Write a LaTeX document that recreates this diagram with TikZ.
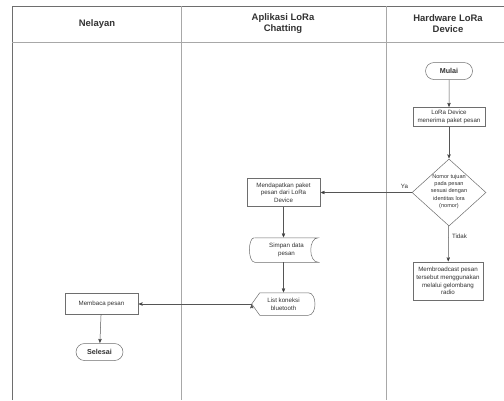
\documentclass[tikz,border=0pt]{standalone}
\usepackage{fontspec}
\setmainfont{Liberation Sans}
\usetikzlibrary{arrows,positioning,shapes.geometric,shapes.misc}

\definecolor{garis}{HTML}{555555}
\definecolor{bingkai}{HTML}{6E6E6E}
\definecolor{lajur}{HTML}{A8A8A8}
\definecolor{teks}{HTML}{333333}

\tikzset{
  judul/.style={font=\fontsize{9.5}{11}\selectfont\bfseries, text=teks, align=center},
  proses/.style={rectangle, draw=bingkai, minimum width=72bp, minimum height=19bp,
    inner sep=1pt, align=center, text=teks, font=\fontsize{6.2}{7.6}\selectfont},
  terminal/.style={rounded rectangle, draw=bingkai, minimum width=49bp, minimum height=17bp,
    inner sep=1pt, text=teks, font=\fontsize{7.2}{8}\selectfont\bfseries},
  keputusan/.style={diamond, draw=bingkai, minimum width=74bp, minimum height=67bp, inner sep=0pt},
  isi/.style={align=center, text=teks, font=\fontsize{6.2}{7.6}\selectfont, inner sep=0pt},
  label/.style={text=teks, font=\fontsize{6.2}{7.6}\selectfont}
}

\begin{document}
\begin{tikzpicture}[x=1bp,y=-1bp,->,>=stealth',shorten >=0.5pt,auto,
        line width=0.5pt]

  \useasboundingbox (0,0) rectangle (504,400);
  \fill[white] (0,0) rectangle (504,400);

  % lajur
  \draw[-,bingkai,line width=0.7pt] (12,400) -- (12,6) -- (504,6);
  \draw[-,lajur,line width=1.4pt] (12,42.5) -- (504,42.5);
  \draw[-,lajur,line width=0.8pt] (181,6) -- (181,400);
  \draw[-,lajur,line width=0.8pt] (386,6) -- (386,400);

  \node[judul] (hNelayan) at (97,24) {Nelayan};
  \node[judul] (hAplikasi) at (283,24) {Aplikasi LoRa\\Chatting};
  \node[judul] (hHardware) at (448,24) {Hardware LoRa\\Device};

  % hardware
  \node[terminal] (mulai) at (449,71) {Mulai};
  \node[proses] (terima) at (449,117) {LoRa Device\\menerima paket pesan};
  \node[keputusan] (cek) at (449,192.5) {};
  \node[isi, font=\fontsize{5.6}{7.2}\selectfont] (cekTeks) at ([yshift=1bp]cek.center)
    {Nomor tujuan\\pada pesan\\sesuai dengan\\identitas lora\\(nomor)};
  \node[proses, minimum width=70bp, minimum height=38bp] (siar) at (448,281)
    {Membroadcast pesan\\tersebut menggunakan\\melalui gelombang\\radio};

  % aplikasi
  \node[proses, minimum width=73bp, minimum height=28bp] (dapat) at (283.5,192.5)
    {Mendapatkan paket\\pesan dari LoRa\\Device};
  \node[isi, minimum width=63bp, minimum height=24bp] (simpan) at (286.5,250) {Simpan data\\pesan};
  \node[isi, minimum width=63bp, minimum height=22bp] (list) at (283.5,304) {List koneksi\\bluetooth};

  % nelayan
  \node[proses, minimum width=73bp, minimum height=21bp] (baca) at (101.5,303.5) {Membaca pesan};
  \node[terminal] (selesai) at (99.5,352) {Selesai};

  % bentuk simpan data dan tampilan
  \draw[-,bingkai] (simpan.north west) -- (simpan.north east)
    .. controls ([xshift=-10bp]simpan.north east) and ([xshift=-10bp]simpan.south east) .. (simpan.south east)
    -- (simpan.south west)
    .. controls ([xshift=-7bp]simpan.south west) and ([xshift=-7bp]simpan.north west) .. (simpan.north west);
  \draw[-,bingkai] (list.west) -- ([xshift=8bp]list.north west) -- ([xshift=-7bp]list.north east)
    .. controls ([xshift=2bp]list.north east) and ([xshift=2bp]list.south east) .. ([xshift=-7bp]list.south east)
    -- ([xshift=8bp]list.south west) -- cycle;

  \path[draw=garis]
        (mulai) edge              (terima)
        (terima) edge             (cek)
        (cek) edge[swap]          node[label,pos=0.08,above] {Ya} (dapat.east |- cek.west)
        (cek) edge                node[label,pos=0.3,right] {Tidak} (siar)
        (dapat) edge              (dapat.south |- simpan.north)
        (simpan.south -| dapat.south) edge (dapat.south |- list.north)
        (list.west) edge          (baca.east |- list.west)
        (baca) edge               (selesai);

\end{tikzpicture}
\end{document}
